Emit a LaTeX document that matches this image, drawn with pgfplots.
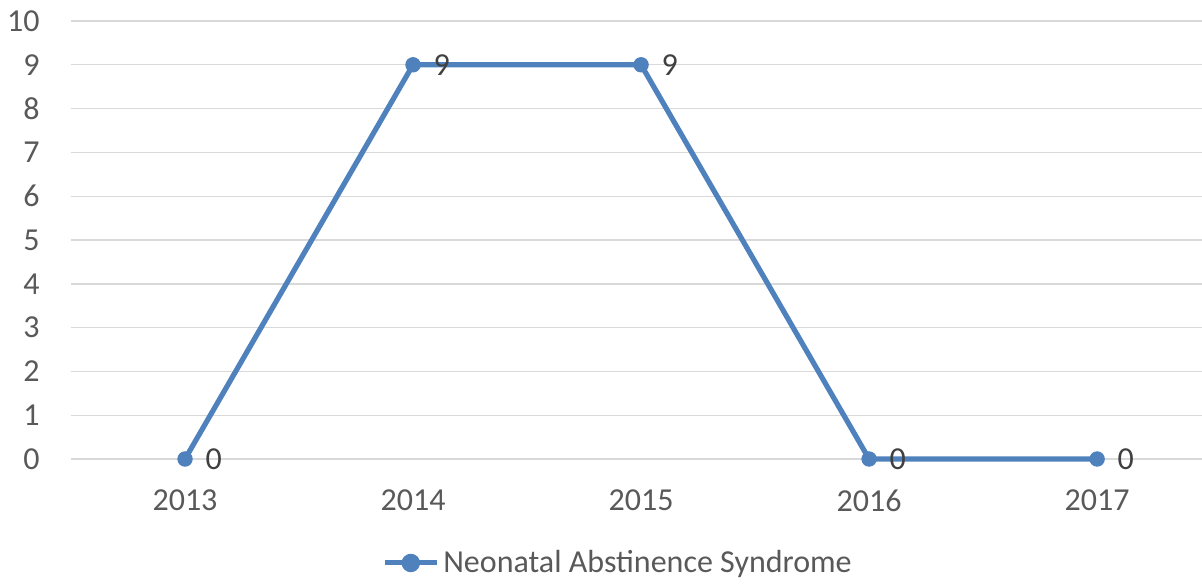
\documentclass[border=0pt]{standalone}
\usepackage{pgfplots}
\pgfplotsset{compat=1.18}
\usepackage{fontspec}
\setmainfont{Carlito}
\definecolor{ser}{HTML}{4F81BD}
\definecolor{gridc}{HTML}{D9D9D9}
\definecolor{txt}{HTML}{595959}
\definecolor{lbl}{HTML}{404040}
\begin{document}
\begin{tikzpicture}
\useasboundingbox (0,0) rectangle (601pt,292pt);
\begin{axis}[
  at={(35.5pt,62.5pt)}, anchor=south west,
  scale only axis, width=565.5pt, height=219pt,
  xmin=-0.5, xmax=4.46, ymin=0, ymax=10,
  ytick={0,...,10}, xtick={0,...,4},
  xticklabels={2013,2014,2015,2016,2017},
  axis line style={draw=none},
  major tick length=0pt,
  ymajorgrids, grid style={gridc, line width=0.7pt},
  /pgf/number format/assume math mode=true,
  tick label style={text=txt, font=\fontsize{16pt}{19pt}\selectfont},
  yticklabel style={anchor=east, inner sep=0pt, xshift=-15.5pt},
  xticklabel style={anchor=north, inner sep=0pt, yshift=-15pt},
  clip=false,
  legend style={at={(axis description cs:0.4845,-0.2374)}, anchor=center,
    draw=none, fill=none, inner sep=0pt,
    font=\fontsize{16pt}{19pt}\selectfont, text=txt},
  legend cell align=left,
  legend image code/.code={
    \draw[ser, line width=2.5pt] (0pt,0pt) -- (26pt,0pt);
    \fill[ser] (13pt,0pt) circle (3.3pt);
  },
]
\addplot[ser, line width=2.6pt, line join=round, mark=*, mark size=3.6pt,
  mark options={line width=0.5pt, fill=ser},
  nodes near coords,
  nodes near coords style={anchor=west, inner sep=0pt, xshift=10pt, text=lbl,
    font=\fontsize{16pt}{19pt}\selectfont}]
  coordinates {(0,0) (1,9) (2,9) (3,0) (4,0)};
\addlegendentry{Neonatal Abstinence Syndrome}
\end{axis}
\end{tikzpicture}
\end{document}
